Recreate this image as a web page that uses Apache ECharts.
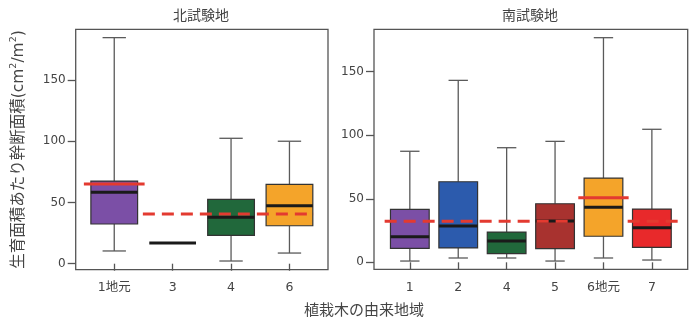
<!DOCTYPE html>
<html>
<head>
<meta charset="utf-8">
<script src="https://cdn.jsdelivr.net/npm/echarts@6/dist/echarts.min.js"></script>
<style>
  html, body { margin: 0; padding: 0; background: #fff; }
  #chart { width: 700px; height: 328px; }
</style>
</head>
<body>
<div id="chart"></div>
<script>
// 北試験地 (north site): origin regions of planted trees
const northLabels = ['1地元', '3', '4', '6'];
const northMin    = [10.4, 16.9,  2.2,   8.7];
const northQ1     = [32.4, 16.9, 23.2,  31.0];
const northMedian = [58.3, 16.9, 37.9,  47.4];
const northQ3     = [67.5, 16.9, 52.6,  64.8];
const northMax    = [184.6, 16.9, 102.4, 100.0];
const northColors = ['#7b4fa6', null, '#21683b', '#f4a42a'];
const northLocalMean = 65.1;   // mean of local stock (1地元)
const northOtherMean = 40.6;   // mean of non-local stock

// 南試験地 (south site)
const southLabels = ['1', '2', '4', '5', '6地元', '7'];
const southMin    = [1.0,  3.4,  3.4,  1.0,  3.4,   1.8];
const southQ1     = [11.0, 11.3, 6.8,  10.7, 20.5,  11.8];
const southMedian = [20.1, 28.6, 16.8, 32.5, 43.3,  27.2];
const southQ3     = [41.7, 63.4, 23.8, 46.1, 66.3,  41.9];
const southMax    = [87.4, 143.2, 90.2, 95.2, 176.8, 104.7];
const southColors = ['#7b4fa6', '#2c5bad', '#21683b', '#a8322f', '#f4a42a', '#e8292b'];
const southLocalMean = 50.8;   // mean of local stock (6地元)
const southOtherMean = 32.3;   // mean of non-local stock

const yTicks = [0, 50, 100, 150];
const FONT = '"Noto Sans CJK JP", "Noto Sans", sans-serif';
const MIXED = '"DejaVu Sans", "Noto Sans CJK JP", sans-serif';
const TEXT = '#444';

function boxData(mins, q1, med, q3, maxs) {
  return mins.map((v, i) => [i + 1, v, q1[i], med[i], q3[i], maxs[i]]);
}

function makeBoxRenderer(colors) {
  return function (params, api) {
    const x = api.value(0);
    const lo = api.value(1), q1 = api.value(2), md = api.value(3), q3 = api.value(4), hi = api.value(5);
    const half = 0.4, capHalf = 0.2;
    const pHi = api.coord([x, hi]), pQ3 = api.coord([x, q3]);
    const pQ1 = api.coord([x, q1]), pLo = api.coord([x, lo]);
    const left = api.coord([x - half, md])[0], right = api.coord([x + half, md])[0];
    const capL = api.coord([x - capHalf, md])[0], capR = api.coord([x + capHalf, md])[0];
    const yMd = api.coord([x, md])[1];
    const whisker = { stroke: '#5a5a5a', lineWidth: 1.3 };
    const children = [];
    if (hi > q3) {
      children.push({ type: 'line', shape: { x1: pHi[0], y1: pHi[1], x2: pQ3[0], y2: pQ3[1] }, style: whisker });
      children.push({ type: 'line', shape: { x1: capL, y1: pHi[1], x2: capR, y2: pHi[1] }, style: whisker });
    }
    if (lo < q1) {
      children.push({ type: 'line', shape: { x1: pQ1[0], y1: pQ1[1], x2: pLo[0], y2: pLo[1] }, style: whisker });
      children.push({ type: 'line', shape: { x1: capL, y1: pLo[1], x2: capR, y2: pLo[1] }, style: whisker });
    }
    const c = colors[params.dataIndex];
    if (c && q3 > q1) {
      children.push({
        type: 'rect',
        shape: { x: left, y: pQ3[1], width: right - left, height: pQ1[1] - pQ3[1] },
        style: { fill: c, stroke: '#333', lineWidth: 1.2 }
      });
    }
    children.push({ type: 'line', shape: { x1: left, y1: yMd, x2: right, y2: yMd },
      style: { stroke: '#1a1a1a', lineWidth: 3 } });
    return { type: 'group', children: children };
  };
}

// mean lines: [xStart, xEnd, value, dashed]
function meanRenderer(params, api) {
  const a = api.coord([api.value(0), api.value(2)]);
  const b = api.coord([api.value(1), api.value(2)]);
  const dashed = api.value(3) === 1;
  return {
    type: 'line',
    shape: { x1: a[0], y1: a[1], x2: b[0], y2: b[1] },
    style: { stroke: '#e33a30', lineWidth: 3, lineDash: dashed ? [12, 7] : null }
  };
}

const northMeans = [
  [1 - 0.52, 1 + 0.52, northLocalMean, 0],
  [1.49, 4.42, northOtherMean, 1]
];
const southMeans = [
  [0.48, 4.41, southOtherMean, 1],
  [5.5, 6.55, southOtherMean, 1],
  [5 - 0.52, 5 + 0.52, southLocalMean, 0]
];

function xAxisFor(labels, min, max, gi) {
  const ticks = labels.map((_, i) => i + 1);
  return {
    type: 'value', gridIndex: gi, min: min, max: max,
    splitLine: { show: false },
    axisLine: { show: false },
    axisTick: { show: true, length: 7, customValues: ticks, lineStyle: { color: '#555', width: 1.3 } },
    axisLabel: { customValues: ticks, margin: 12, fontSize: 12.5, color: TEXT, fontFamily: MIXED,
      formatter: v => labels[Math.round(v) - 1] }
  };
}
function yAxisFor(min, max, gi) {
  return {
    type: 'value', gridIndex: gi, min: min, max: max,
    splitLine: { show: false },
    axisLine: { show: false },
    axisTick: { show: true, length: 8, customValues: yTicks, lineStyle: { color: '#555', width: 1.3 } },
    axisLabel: { customValues: yTicks, margin: 10, fontSize: 12, color: TEXT, fontFamily: MIXED }
  };
}

const chart = echarts.init(document.getElementById('chart'), null, { renderer: 'canvas' });
const yLeft = yAxisFor(-4.9, 191.4, 0);
yLeft.name = '{t|生育面積あたり幹断面積(cm}{s|2}{t|/m}{s|2}{t|)}';
yLeft.nameLocation = 'middle';
yLeft.nameRotate = 90;
yLeft.nameGap = 47;
yLeft.nameTextStyle = {
  rich: {
    t: { fontSize: 15.5, color: TEXT, fontFamily: MIXED, lineHeight: 20 },
    s: { fontSize: 9.5, color: TEXT, fontFamily: MIXED, verticalAlign: 'top', lineHeight: 20 }
  }
};

chart.setOption({
  animation: false,
  backgroundColor: '#fff',
  grid: [
    { left: 75.7, top: 29.3, width: 252.3, height: 240.4, show: true, borderColor: '#555', borderWidth: 1.3 },
    { left: 374, top: 29.3, width: 313.7, height: 240, show: true, borderColor: '#555', borderWidth: 1.3 }
  ],
  xAxis: [
    xAxisFor(northLabels, 0.34, 4.66, 0),
    xAxisFor(southLabels, 0.26, 6.74, 1)
  ],
  yAxis: [yLeft, yAxisFor(-5.5, 183.4, 1)],
  graphic: [
    { type: 'text', left: 202 - 29, top: 8, style: { text: '北試験地', fontSize: 14, fill: TEXT, fontFamily: FONT } },
    { type: 'text', left: 531 - 29, top: 8, style: { text: '南試験地', fontSize: 14, fill: TEXT, fontFamily: FONT } },
    { type: 'text', left: 365 - 61, top: 302, style: { text: '植栽木の由来地域', fontSize: 15, fill: TEXT, fontFamily: FONT } }
  ],
  series: [
    { type: 'custom', xAxisIndex: 0, yAxisIndex: 0, renderItem: makeBoxRenderer(northColors),
      data: boxData(northMin, northQ1, northMedian, northQ3, northMax), encode: { x: 0, y: [1, 2, 3, 4, 5] }, z: 2 },
    { type: 'custom', xAxisIndex: 1, yAxisIndex: 1, renderItem: makeBoxRenderer(southColors),
      data: boxData(southMin, southQ1, southMedian, southQ3, southMax), encode: { x: 0, y: [1, 2, 3, 4, 5] }, z: 2 },
    { type: 'custom', xAxisIndex: 0, yAxisIndex: 0, renderItem: meanRenderer,
      data: northMeans, encode: { x: [0, 1], y: 2 }, z: 3 },
    { type: 'custom', xAxisIndex: 1, yAxisIndex: 1, renderItem: meanRenderer,
      data: southMeans, encode: { x: [0, 1], y: 2 }, z: 3 }
  ]
});
</script>
</body>
</html>
